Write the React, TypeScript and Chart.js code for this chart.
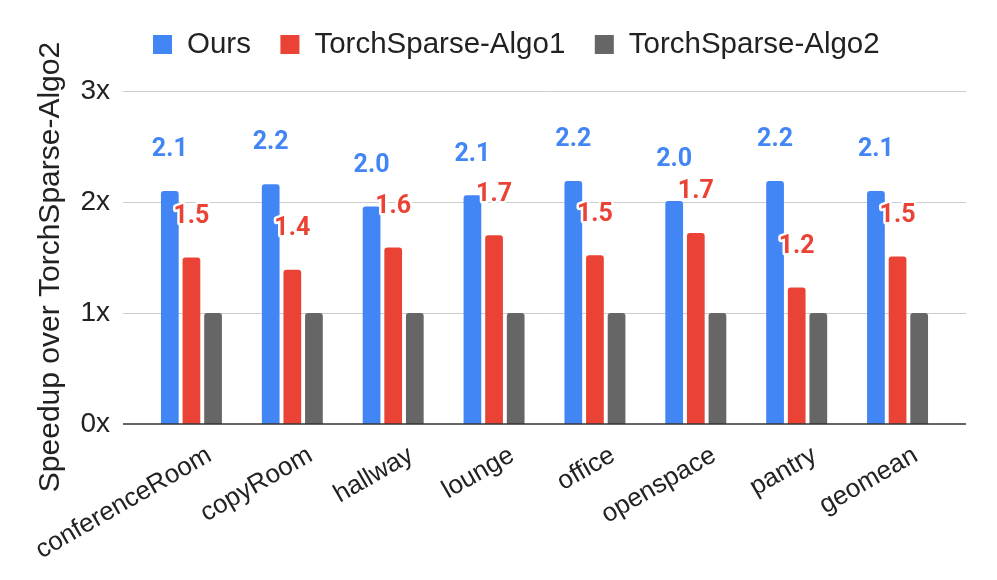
import React, { useEffect, useRef } from "react";
import { Chart, registerables } from "chart.js";

Chart.register(...registerables);

const categories = ["conferenceRoom", "copyRoom", "hallway", "lounge", "office", "openspace", "pantry", "geomean"];
const oursValues = [2.1, 2.16, 1.96, 2.06, 2.19, 2.01, 2.19, 2.1];
const algo1Values = [1.5, 1.39, 1.59, 1.7, 1.52, 1.72, 1.23, 1.51];
const algo2Values = [1, 1, 1, 1, 1, 1, 1, 1];
const seriesNames = ["Ours", "TorchSparse-Algo1", "TorchSparse-Algo2"];
const seriesColors = ["#4285F4", "#EA4335", "#666666"];
const yTicks = [0, 1, 2, 3];
const yTickLabels = ["0x", "1x", "2x", "3x"];
const yTitle = "Speedup over TorchSparse-Algo2";
const labeledSeries = [0, 1];

const SANS = "'Liberation Sans', Arial, sans-serif";

const extrasPlugin = {
  id: "extras",
  beforeDatasetsDraw(chart: any) {
    const { ctx, chartArea, scales } = chart;
    const y = scales.y;
    ctx.save();
    ctx.strokeStyle = "#cccccc";
    ctx.lineWidth = 1;
    for (const v of yTicks) {
      if (v === 0) continue;
      const py = Math.round(y.getPixelForValue(v)) + 0.5;
      ctx.beginPath();
      ctx.moveTo(chartArea.left - 18, py);
      ctx.lineTo(chartArea.right + 18, py);
      ctx.stroke();
    }
    ctx.restore();
  },
  afterDatasetsDraw(chart: any) {
    const { ctx, chartArea, scales } = chart;
    const y = scales.y;
    ctx.save();
    // zero line
    ctx.strokeStyle = "#333333";
    ctx.lineWidth = 1.5;
    const p0 = y.getPixelForValue(0);
    ctx.beginPath();
    ctx.moveTo(chartArea.left - 18, p0);
    ctx.lineTo(chartArea.right + 18, p0);
    ctx.stroke();
    // data labels
    ctx.font = "bold 25px Roboto, 'Liberation Sans', sans-serif";
    ctx.textAlign = "center";
    ctx.textBaseline = "middle";
    ctx.lineJoin = "round";
    for (const di of labeledSeries) {
      const meta = chart.getDatasetMeta(di);
      const ds = chart.data.datasets[di];
      meta.data.forEach((el: any, i: number) => {
        const txt = Number(ds.data[i]).toFixed(1);
        const ly = el.y - 41;
        ctx.strokeStyle = "#ffffff";
        ctx.lineWidth = 5;
        ctx.strokeText(txt, el.x, ly);
        ctx.fillStyle = seriesColors[di];
        ctx.fillText(txt, el.x, ly);
      });
    }
    ctx.restore();
  },
  afterDraw(chart: any) {
    const { ctx } = chart;
    ctx.save();
    // legend
    ctx.font = `29.5px ${SANS}`;
    ctx.textBaseline = "middle";
    ctx.textAlign = "left";
    let x = 153;
    const boxTop = 35;
    const box = 19;
    const ty = 45;
    chart.data.datasets.forEach((ds: any) => {
      ctx.fillStyle = ds.backgroundColor;
      ctx.fillRect(x, boxTop, box, box);
      const tx = x + 34;
      ctx.fillStyle = "#222222";
      ctx.fillText(ds.label, tx, ty);
      x = tx + ctx.measureText(ds.label).width + 29.5;
    });
    // y axis title
    ctx.font = `30px ${SANS}`;
    ctx.textAlign = "center";
    ctx.textBaseline = "middle";
    ctx.fillStyle = "#222222";
    ctx.translate(51, 267);
    ctx.rotate(-Math.PI / 2);
    ctx.fillText(yTitle, 0, 0);
    ctx.restore();
  },
};

export default function App() {
  const ref = useRef<HTMLCanvasElement | null>(null);
  useEffect(() => {
    document.body.style.margin = "0";
    const canvas = ref.current;
    if (!canvas) return;
    const seriesValues = [oursValues, algo1Values, algo2Values];
    const chart = new Chart(canvas, {
      type: "bar",
      data: {
        labels: categories,
        datasets: seriesValues.map((vals, i) => ({
          label: seriesNames[i],
          data: vals,
          backgroundColor: seriesColors[i],
          borderRadius: { topLeft: 3, topRight: 3, bottomLeft: 0, bottomRight: 0 },
          borderSkipped: "bottom",
          barPercentage: 0.82,
          categoryPercentage: 0.643,
        })),
      },
      options: {
        animation: false,
        responsive: true,
        maintainAspectRatio: false,
        layout: { padding: { left: 30, right: 49, top: 91, bottom: 0 } },
        plugins: {
          legend: { display: false },
          tooltip: { enabled: false },
          title: { display: false },
        },
        scales: {
          x: {
            grid: { display: false, drawTicks: false },
            border: { display: false },
            ticks: {
              autoSkip: false,
              minRotation: 30,
              maxRotation: 30,
              labelOffset: 18,
              padding: 16,
              color: "#222222",
              font: { family: SANS, size: 26 },
            },
            afterFit: (s: any) => {
              s.height = 156;
              s.paddingLeft = 0;
              s.paddingRight = 0;
            },
          },
          y: {
            min: 0,
            max: 3,
            grid: { display: false, drawTicks: false },
            border: { display: false },
            ticks: {
              stepSize: 1,
              padding: 31,
              color: "#222222",
              font: { family: SANS, size: 28 },
              callback: (v: any) => {
                const idx = yTicks.indexOf(Number(v));
                return idx >= 0 ? yTickLabels[idx] : "";
              },
            },
            afterFit: (s: any) => {
              s.width = 111;
            },
          },
        },
      },
      plugins: [extrasPlugin],
    });
    return () => chart.destroy();
  }, []);
  return (
    <div style={{ position: "absolute", left: 0, top: 0, width: 997, height: 580, background: "#fff" }}>
      <canvas ref={ref} />
    </div>
  );
}
